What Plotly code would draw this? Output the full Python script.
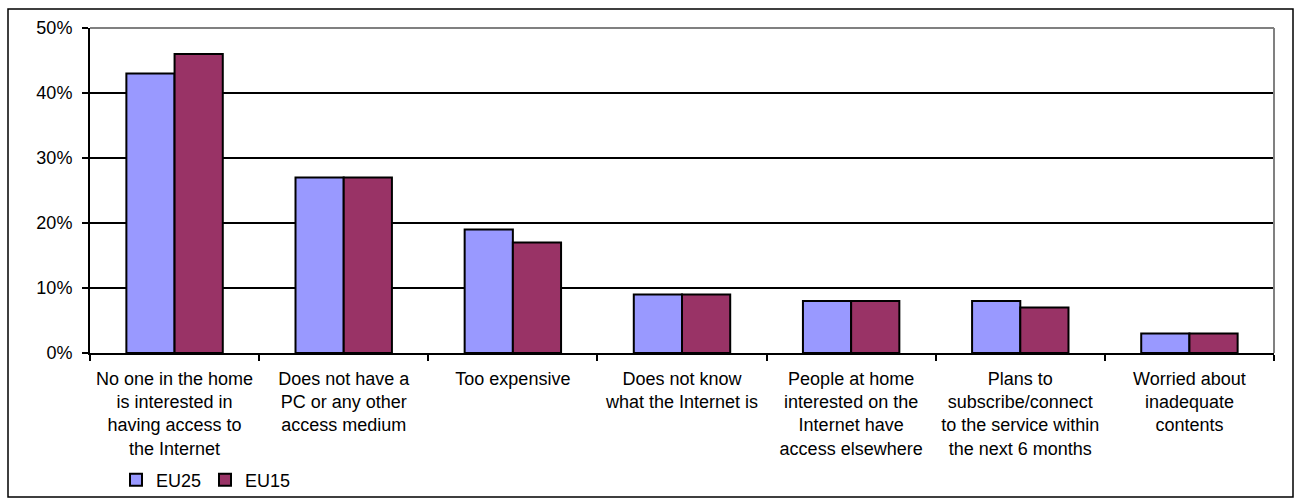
import plotly.graph_objects as go

categories = [
    "No one in the home<br>is interested in<br>having access to<br>the Internet",
    "Does not have a<br>PC or any other<br>access medium",
    "Too expensive",
    "Does not know<br>what the Internet is",
    "People at home<br>interested on the<br>Internet have<br>access elsewhere",
    "Plans to<br>subscribe/connect<br>to the service within<br>the next 6 months",
    "Worried about<br>inadequate<br>contents",
]
eu25 = [0.43, 0.27, 0.19, 0.09, 0.08, 0.08, 0.03]
eu15 = [0.46, 0.27, 0.17, 0.09, 0.08, 0.07, 0.03]
y_ticks = [0, 0.1, 0.2, 0.3, 0.4, 0.5]
y_ticktext = ["0%", "10%", "20%", "30%", "40%", "50%"]

FONT = "Liberation Sans, Arial, sans-serif"

fig = go.Figure()
fig.add_trace(go.Bar(name="EU25", x=categories, y=eu25,
                     marker=dict(color="#9999FF", line=dict(color="black", width=2))))
fig.add_trace(go.Bar(name="EU15", x=categories, y=eu15,
                     marker=dict(color="#993366", line=dict(color="black", width=2))))

W, H = 1299, 503
L, R, T, B = 90, 25, 28, 150
pw, ph = W - L - R, H - T - B

def px_x(x):
    return (x - L) / pw

def px_y(y):
    return (H - B - y) / ph

fig.update_layout(
    width=W, height=H,
    margin=dict(l=L, r=R, t=T, b=B, autoexpand=False),
    paper_bgcolor="white", plot_bgcolor="white",
    barmode="group", bargap=0.43, bargroupgap=0,
    font=dict(family=FONT, size=18, color="black"),
    showlegend=True,
    legend=dict(orientation="h", xref="container", yref="container",
                x=116 / W, y=(H - 480) / H, yanchor="middle", xanchor="left",
                font=dict(size=18), itemwidth=30, entrywidth=44, entrywidthmode="pixels",
                bgcolor="rgba(0,0,0,0)", traceorder="normal"),
    xaxis=dict(showgrid=False, tickson="boundaries", ticks="outside", ticklen=6,
               tickcolor="black", tickwidth=2, showline=True, linecolor="black", linewidth=2,
               tickfont=dict(size=18), tickangle=0, ticklabelstandoff=8, automargin=False),
    yaxis=dict(range=[0, 0.5], tickvals=y_ticks, ticktext=y_ticktext, showgrid=True,
               gridcolor="black", gridwidth=1.5, ticks="outside", ticklen=6, tickcolor="black",
               tickwidth=2, showline=True, linecolor="black", linewidth=2,
               zeroline=False, tickfont=dict(size=18), ticklabelstandoff=6, automargin=False),
    shapes=[
        dict(type="line", xref="paper", yref="paper", x0=0, x1=1, y0=1, y1=1,
             line=dict(color="#808080", width=2), layer="above"),
        dict(type="line", xref="paper", yref="paper", x0=1, x1=1, y0=0, y1=1,
             line=dict(color="#808080", width=2), layer="above"),
        dict(type="rect", xref="paper", yref="paper",
             x0=px_x(8), x1=px_x(1293), y0=px_y(497), y1=px_y(9),
             line=dict(color="black", width=1.5), fillcolor="rgba(0,0,0,0)", layer="above"),
    ],
)

fig.write_html("out.html", config={"displayModeBar": False},
               post_script="document.body.style.margin='0';document.body.style.overflow='hidden';")
